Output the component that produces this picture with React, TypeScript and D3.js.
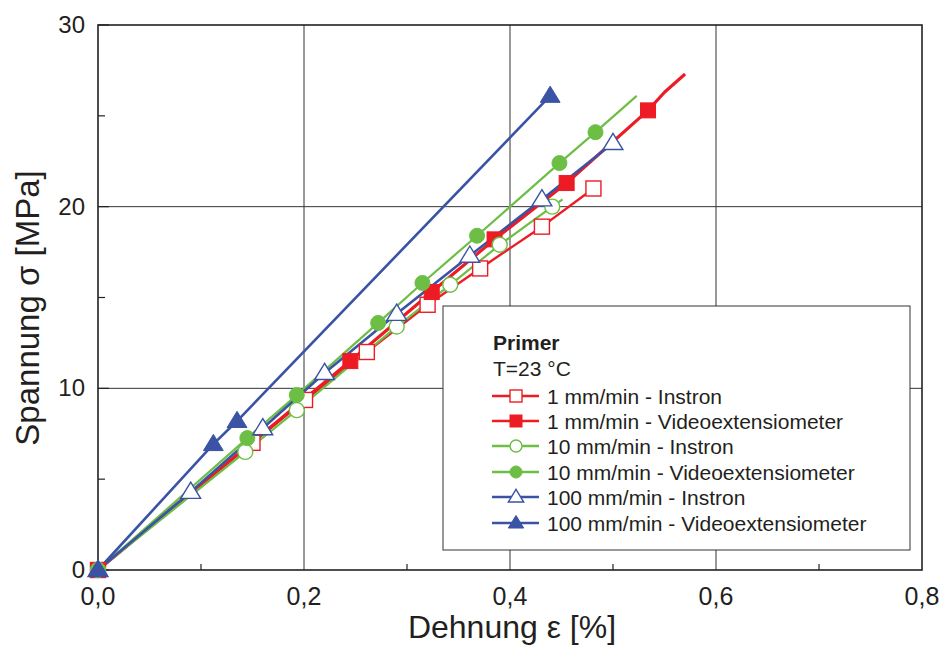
import React from "react";
import * as d3 from "d3";

// ---- data ----
const xTicks = [0, 0.2, 0.4, 0.6, 0.8];
const xMinor = [0.1, 0.3, 0.5, 0.7];
const yTicks = [0, 10, 20, 30];
const yMinor = [5, 15, 25];

const red1InstronX = [0, 0.15, 0.201, 0.261, 0.32, 0.371, 0.431, 0.481];
const red1InstronY = [0, 7.0, 9.36, 12.0, 14.6, 16.6, 18.9, 21.0];

const red1VideoX = [0, 0.245, 0.324, 0.385, 0.455, 0.534];
const red1VideoY = [0, 11.5, 15.3, 18.2, 21.3, 25.3];
const red1VideoTailX = [0.55, 0.57];
const red1VideoTailY = [26.3, 27.3];

const green10InstronX = [0, 0.143, 0.193, 0.29, 0.342, 0.39, 0.441];
const green10InstronY = [0, 6.5, 8.8, 13.4, 15.7, 17.9, 20.0];
const green10InstronTailX = [0.451];
const green10InstronTailY = [20.4];

const green10VideoX = [0, 0.145, 0.193, 0.272, 0.315, 0.368, 0.448, 0.483];
const green10VideoY = [0, 7.26, 9.63, 13.6, 15.8, 18.4, 22.4, 24.1];
const green10VideoTailX = [0.523];
const green10VideoTailY = [26.1];

const blue100InstronX = [0, 0.09, 0.16, 0.22, 0.29, 0.361, 0.431, 0.5];
const blue100InstronY = [0, 4.3, 7.8, 10.84, 14.1, 17.3, 20.4, 23.5];

const blue100VideoX = [0, 0.112, 0.135, 0.439];
const blue100VideoY = [0, 6.93, 8.2, 26.1];

const legendTitle = "Primer";
const legendSub = "T=23 °C";

const RED = "#ED1C24";
const GREEN = "#6DBE45";
const BLUE = "#3A53A4";

type Series = {
  label: string;
  xs: number[];
  ys: number[];
  tx: number[];
  ty: number[];
  color: string;
  shape: "square" | "circle" | "triangle";
  filled: boolean;
  width: number;
};

const series: Series[] = [
  { label: "1 mm/min - Instron", xs: red1InstronX, ys: red1InstronY, tx: [], ty: [], color: RED, shape: "square", filled: false, width: 2.4 },
  { label: "1 mm/min - Videoextensiometer", xs: red1VideoX, ys: red1VideoY, tx: red1VideoTailX, ty: red1VideoTailY, color: RED, shape: "square", filled: true, width: 3.2 },
  { label: "10 mm/min - Instron", xs: green10InstronX, ys: green10InstronY, tx: green10InstronTailX, ty: green10InstronTailY, color: GREEN, shape: "circle", filled: false, width: 2.2 },
  { label: "10 mm/min - Videoextensiometer", xs: green10VideoX, ys: green10VideoY, tx: green10VideoTailX, ty: green10VideoTailY, color: GREEN, shape: "circle", filled: true, width: 2.2 },
  { label: "100 mm/min - Instron", xs: blue100InstronX, ys: blue100InstronY, tx: [], ty: [], color: BLUE, shape: "triangle", filled: false, width: 2.6 },
  { label: "100 mm/min - Videoextensiometer", xs: blue100VideoX, ys: blue100VideoY, tx: [], ty: [], color: BLUE, shape: "triangle", filled: true, width: 2.6 },
];

const W = 944, H = 645;
const L = 98, R = 922, T = 25, B = 570;
const FONT = "'Liberation Sans', Arial, Helvetica, sans-serif";
const INK = "#231f20";

function Marker({ x, y, s, shape, color, filled }: { x: number; y: number; s: number; shape: string; color: string; filled: boolean }) {
  const fill = filled ? color : "#fff";
  const sw = filled ? 1 : 1.4;
  if (shape === "square") {
    return <rect x={x - s / 2} y={y - s / 2} width={s} height={s} fill={fill} stroke={color} strokeWidth={sw} />;
  }
  if (shape === "circle") {
    return <circle cx={x} cy={y} r={s / 2} fill={fill} stroke={color} strokeWidth={sw} />;
  }
  const h = s * 0.9;
  const w = s * 1.1;
  const pts = `${x},${y - h * 0.6} ${x - w / 2},${y + h * 0.4} ${x + w / 2},${y + h * 0.4}`;
  return <polygon points={pts} fill={fill} stroke={color} strokeWidth={sw} strokeLinejoin="miter" />;
}

export default function App() {
  const x = d3.scaleLinear().domain([0, 0.8]).range([L, R]);
  const y = d3.scaleLinear().domain([0, 30]).range([B, T]);
  const line = d3.line<[number, number]>().x((d) => x(d[0])).y((d) => y(d[1]));

  const legX = 443, legY = 306, legW = 467, legH = 244;
  const rowY = [396, 421, 446, 472, 497, 523];

  return (
    <svg width={W} height={H} style={{ position: "absolute", left: 0, top: 0, background: "#fff" }} fontFamily={FONT}>
      {/* grid */}
      {xTicks.slice(1, -1).map((t) => (
        <line key={"gx" + t} x1={x(t)} x2={x(t)} y1={T} y2={B} stroke="#333" strokeWidth={1} />
      ))}
      {yTicks.slice(1, -1).map((t) => (
        <line key={"gy" + t} x1={L} x2={R} y1={y(t)} y2={y(t)} stroke="#333" strokeWidth={1} />
      ))}
      {/* minor ticks */}
      {xMinor.map((t) => (
        <line key={"mx" + t} x1={x(t)} x2={x(t)} y1={B} y2={B - 6} stroke="#222" strokeWidth={1.2} />
      ))}
      {yMinor.map((t) => (
        <line key={"my" + t} x1={L} x2={L + 7} y1={y(t)} y2={y(t)} stroke="#222" strokeWidth={1.2} />
      ))}
      {yTicks.map((t) => (
        <line key={"My" + t} x1={L} x2={L + 11} y1={y(t)} y2={y(t)} stroke="#222" strokeWidth={1.2} />
      ))}
      {/* frame */}
      <rect x={L} y={T} width={R - L} height={B - T} fill="none" stroke="#222" strokeWidth={1.6} />

      {/* tick labels */}
      {yTicks.map((t) => (
        <text key={"ly" + t} x={L - 13} y={y(t) + 8} fontSize={24} textAnchor="end" fill={INK}>
          {t}
        </text>
      ))}
      {xTicks.map((t) => (
        <text key={"lx" + t} x={x(t)} y={605} fontSize={25} textAnchor="middle" fill={INK}>
          {d3.format(".1f")(t).replace(".", ",")}
        </text>
      ))}
      <text x={512} y={638} fontSize={32} textAnchor="middle" fill={INK}>
        Dehnung ε [%]
      </text>
      <text transform={`translate(39,${308}) rotate(-90)`} fontSize={33} textAnchor="middle" fill={INK}>
        Spannung σ [MPa]
      </text>

      {/* series */}
      {series.map((s, i) => {
        const pts: [number, number][] = s.xs.map((v, k) => [v, s.ys[k]]);
        const tail: [number, number][] = s.tx.map((v, k) => [v, s.ty[k]]);
        return (
          <g key={"s" + i}>
            <path d={line([...pts, ...tail]) || ""} fill="none" stroke={s.color} strokeWidth={s.width} strokeLinejoin="round" />
          </g>
        );
      })}
      {series.map((s, i) => (
        <g key={"m" + i}>
          {s.xs.map((v, k) => (
            <Marker key={k} x={x(v)} y={y(s.ys[k])} s={s.shape === "triangle" ? 18 : 15} shape={s.shape} color={s.color} filled={s.filled} />
          ))}
        </g>
      ))}

      {/* legend */}
      <rect x={legX} y={legY} width={legW} height={legH} fill="#fff" stroke="#333" strokeWidth={1} />
      <text x={493} y={350} fontSize={21} fontWeight="bold" fill={INK}>
        {legendTitle}
      </text>
      <text x={493} y={376} fontSize={21} fill={INK}>
        {legendSub}
      </text>
      {series.map((s, i) => (
        <g key={"lg" + i}>
          <line x1={492} x2={539} y1={rowY[i]} y2={rowY[i]} stroke={s.color} strokeWidth={2.6} />
          <Marker x={516} y={rowY[i]} s={s.shape === "triangle" ? 14 : 12} shape={s.shape} color={s.color} filled={s.filled} />
          <text x={547} y={rowY[i] + 7.5} fontSize={21} fill={INK}>
            {s.label}
          </text>
        </g>
      ))}
    </svg>
  );
}
